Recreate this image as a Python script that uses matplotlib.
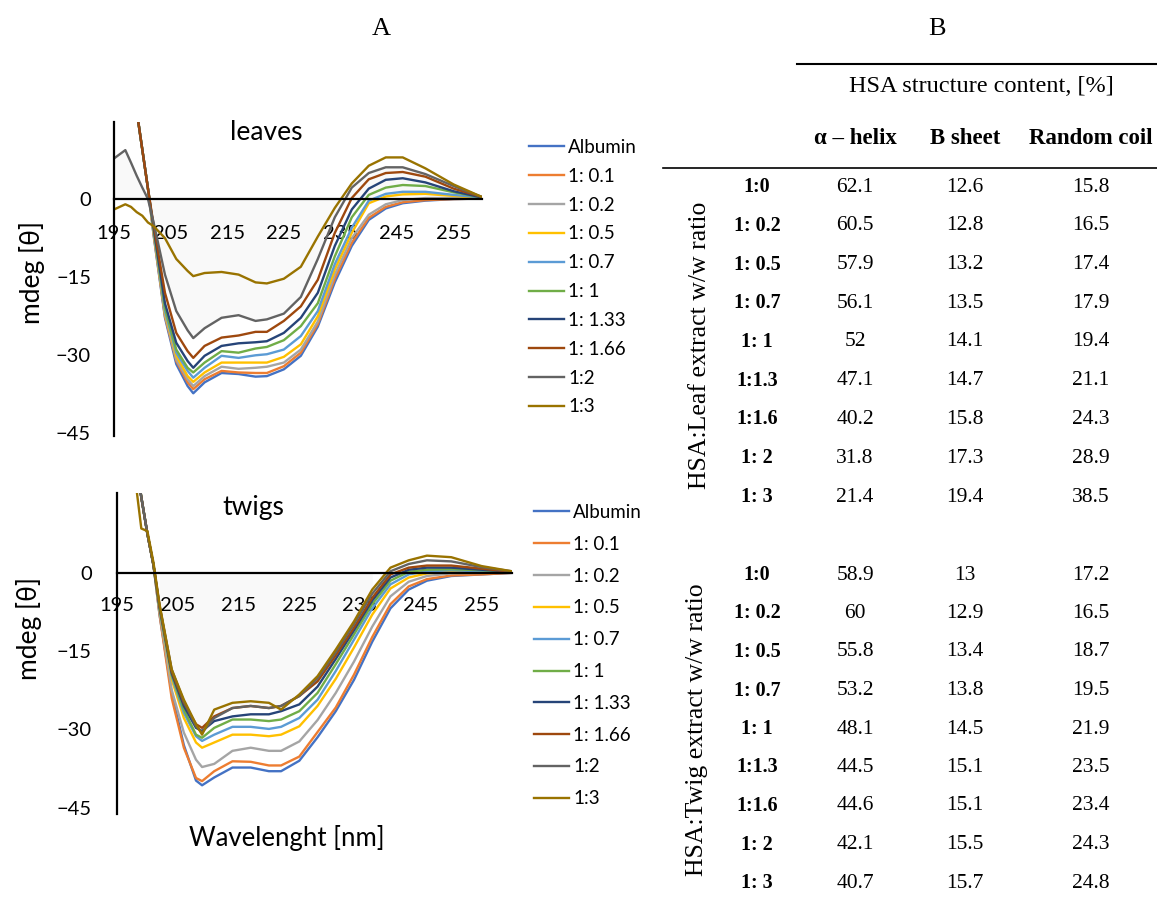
import numpy as np
import matplotlib.pyplot as plt

nan = np.nan
W, H = 1157, 898

wavelength = [195, 197, 198, 199, 200, 201, 202, 204, 206, 208, 209, 211, 214, 217,
              220, 222, 225, 228, 231, 234, 237, 240, 243, 246, 250, 255, 260]

series_names = ['Albumin', '1: 0.1', '1: 0.2', '1: 0.5', '1: 0.7', '1: 1',
                '1: 1.33', '1: 1.66', '1:2', '1:3']
series_colors = ['#4472C4', '#ED7D31', '#A5A5A5', '#FFC000', '#5B9BD5', '#70AD47',
                 '#264478', '#9E480E', '#636363', '#997300']

# leaves, mdeg
leaf_albumin = [nan, nan, 25, 17, 9.5, 2, -7.0, -22.8, -31.7, -35.9, -37.3, -35.2, -33.4, -33.6,
                -34.1, -34.0, -32.7, -30.1, -24.5, -16.0, -9.0, -4.0, -1.8, -0.8, -0.3, 0.0, 0.1]
leaf_01 = [nan, nan, 25, 17, 9.5, 2, -6.8, -22.5, -31.1, -35.2, -36.5, -34.6, -33.0, -33.3,
           -33.4, -33.4, -32.1, -29.5, -24.0, -15.3, -8.4, -3.6, -1.5, -0.6, -0.2, 0.0, 0.1]
leaf_02 = [nan, nan, 25, 17, 9.5, 2, -6.5, -22.2, -30.8, -34.6, -35.9, -34.0, -32.2, -32.6,
           -32.4, -32.2, -31.4, -28.9, -23.5, -14.5, -7.5, -3.0, -1.0, -0.2, 0.2, 0.2, 0.1]
leaf_05 = [nan, nan, 25, 17, 9.5, 2, -6.3, -21.9, -30.1, -34.0, -35.1, -33.3, -31.4, -31.4,
           -31.4, -31.4, -30.3, -27.9, -22.5, -13.5, -6.5, -0.8, 0.5, 0.9, 1.0, 0.6, 0.2]
leaf_07 = [nan, nan, 25, 17, 9.5, 2, -6.0, -21.5, -29.5, -33.0, -34.3, -32.4, -30.1, -30.5,
           -30.0, -29.8, -28.9, -26.3, -21.5, -12.5, -5.5, -0.3, 1.0, 1.4, 1.4, 0.8, 0.3]
leaf_1 = [nan, nan, 25, 17, 9.5, 2, -5.8, -20.9, -28.9, -32.4, -33.3, -31.4, -29.2, -29.5,
          -28.7, -28.4, -27.1, -24.4, -20.0, -11.0, -3.5, 0.8, 2.2, 2.7, 2.5, 1.3, 0.3]
leaf_133 = [nan, nan, 25, 17, 9.5, 2, -5.5, -20.0, -27.6, -31.1, -32.4, -30.1, -28.2, -27.7,
            -27.5, -27.3, -25.7, -22.8, -18.0, -9.0, -2.0, 2.0, 3.7, 4.0, 3.2, 1.5, 0.3]
leaf_166 = [nan, nan, 25, 17, 9.5, 2, -5.0, -18.0, -25.7, -29.2, -30.5, -28.2, -26.6, -26.2,
            -25.5, -25.5, -23.4, -20.6, -15.5, -6.5, 0.2, 3.8, 5.0, 5.2, 4.3, 2.0, 0.4]
leaf_2 = [7.8, 9.4, 7.0, 4.5, 2.2, 0.0, -4.5, -14.5, -21.5, -25.2, -26.7, -24.8, -22.8, -22.3,
          -23.4, -23.1, -22.0, -18.8, -11.5, -3.5, 2.2, 5.0, 6.1, 6.1, 4.8, 2.5, 0.4]
leaf_3 = [-2.0, -1.0, -1.5, -2.5, -3.2, -4.5, -5.2, -7.5, -11.5, -13.8, -14.8, -14.2, -14.0, -14.5,
          -16.0, -16.2, -15.3, -13.0, -7.2, -1.7, 3.0, 6.4, 8.0, 8.0, 5.9, 2.8, 0.4]

# twigs, mdeg
twig_albumin = [nan, nan, 22, 14.5, 7.5, 1.5, -8.0, -23.0, -33.0, -39.8, -40.7, -39.2, -37.3, -37.3,
                -38.0, -38.0, -36.0, -31.5, -26.5, -20.5, -13.2, -6.8, -3.2, -1.5, -0.6, -0.3, 0.0]
twig_01 = [nan, nan, 22, 14.5, 7.5, 1.5, -8.0, -24.0, -33.5, -39.3, -39.9, -38.0, -36.1, -36.2,
           -36.9, -36.9, -35.2, -30.5, -25.8, -19.5, -12.3, -6.0, -2.6, -1.2, -0.5, -0.3, 0.0]
twig_02 = [nan, nan, 22, 14.5, 7.5, 1.5, -7.5, -22.4, -30.6, -35.8, -37.2, -36.6, -34.1, -33.5,
           -34.1, -34.1, -32.3, -28.2, -23.0, -17.0, -10.3, -4.5, -1.7, -0.6, -0.1, 0.0, 0.1]
twig_05 = [nan, nan, 22, 14.5, 7.5, 1.5, -7.0, -20.4, -27.8, -32.5, -33.5, -32.5, -31.0, -31.0,
           -31.3, -31.0, -29.4, -25.5, -20.3, -14.3, -8.0, -3.0, -0.9, -0.1, 0.2, 0.2, 0.1]
twig_07 = [nan, nan, 22, 14.5, 7.5, 1.5, -7.0, -19.8, -26.8, -31.3, -32.2, -31.0, -29.5, -29.5,
           -29.9, -29.5, -27.8, -24.3, -18.8, -12.8, -6.8, -2.2, -0.3, 0.3, 0.5, 0.3, 0.1]
twig_1 = [nan, nan, 22, 14.5, 7.5, 1.5, -6.8, -19.5, -26.2, -31.0, -31.6, -29.7, -28.1, -28.1,
          -28.4, -28.1, -26.5, -23.0, -17.5, -11.8, -6.0, -1.5, 0.2, 0.6, 0.7, 0.5, 0.2]
twig_133 = [nan, nan, 22, 14.5, 7.5, 1.5, -6.5, -19.2, -25.5, -29.7, -30.3, -28.4, -27.5, -27.1,
            -27.1, -26.5, -25.2, -21.8, -16.5, -11.0, -5.3, -0.9, 0.6, 1.0, 1.0, 0.6, 0.2]
twig_166 = [nan, nan, 22, 14.5, 7.5, 1.5, -6.3, -18.9, -24.9, -29.0, -29.7, -27.5, -25.9, -25.5,
            -25.9, -25.5, -23.6, -20.8, -15.8, -10.5, -4.8, -0.3, 1.0, 1.4, 1.4, 0.8, 0.2]
twig_2 = [nan, nan, 22, 14.5, 7.5, 1.5, -6.3, -18.5, -24.6, -29.4, -30.6, -27.8, -25.9, -25.5,
          -25.9, -25.5, -23.6, -20.2, -15.2, -9.8, -4.0, 0.3, 1.7, 2.4, 2.2, 1.1, 0.3]
twig_3 = [nan, nan, 18, 8.5, 8.0, 2.0, -6.0, -18.5, -24.3, -29.0, -31.0, -26.2, -24.9, -24.6,
          -24.9, -26.2, -23.3, -19.8, -14.7, -9.3, -3.2, 1.0, 2.4, 3.3, 3.0, 1.3, 0.3]

leaf_curves = [leaf_albumin, leaf_01, leaf_02, leaf_05, leaf_07, leaf_1, leaf_133, leaf_166, leaf_2, leaf_3]
twig_curves = [twig_albumin, twig_01, twig_02, twig_05, twig_07, twig_1, twig_133, twig_166, twig_2, twig_3]

xticks = [195, 205, 215, 225, 235, 245, 255]
yticks = [-45, -30, -15, 0]

# table B
row_labels = ['1:0', '1: 0.2', '1: 0.5', '1: 0.7', '1: 1', '1:1.3', '1:1.6', '1: 2', '1: 3']
col_labels = ['\u03b1 \u2013 helix', 'B sheet', 'Random coil']
leaf_helix = ['62.1', '60.5', '57.9', '56.1', '52', '47.1', '40.2', '31.8', '21.4']
leaf_sheet = ['12.6', '12.8', '13.2', '13.5', '14.1', '14.7', '15.8', '17.3', '19.4']
leaf_coil = ['15.8', '16.5', '17.4', '17.9', '19.4', '21.1', '24.3', '28.9', '38.5']
twig_helix = ['58.9', '60', '55.8', '53.2', '48.1', '44.5', '44.6', '42.1', '40.7']
twig_sheet = ['13', '12.9', '13.4', '13.8', '14.5', '15.1', '15.1', '15.5', '15.7']
twig_coil = ['17.2', '16.5', '18.7', '19.5', '21.9', '23.5', '23.4', '24.3', '24.8']

plt.rcParams['font.family'] = ['Lato', 'DejaVu Sans']
serif = ['Liberation Serif', 'DejaVu Serif']


def fx(x):
    return x / W


def fy(y):
    return 1 - y / H


def draw_panel(ax, curves, ylim, tickpad, fill_positive):
    for name, color, vals in zip(series_names, series_colors, curves):
        ax.plot(wavelength, vals, color=color, lw=1.7, label=name)
    shade = np.array(curves[8], dtype=float)
    mask = np.ones(len(shade), bool) if fill_positive else ~(shade > 0)
    ax.fill_between(wavelength, shade, 0, where=mask, color='#f9f9f9', lw=0, zorder=0)
    ax.set_xlim(195, 260)
    ax.set_ylim(*ylim)
    ax.spines[['top', 'right']].set_visible(False)
    ax.spines['bottom'].set_position(('data', 0))
    for s in ('left', 'bottom'):
        ax.spines[s].set_linewidth(1.6)
    ax.set_xticks(xticks)
    ax.set_yticks(yticks)
    ax.tick_params(axis='x', length=0, labelsize=14.5, pad=tickpad[0])
    ax.tick_params(axis='y', length=0, labelsize=14.5, pad=tickpad[1])


fig = plt.figure(figsize=(W / 100, H / 100), dpi=100)

ax1 = fig.add_axes([fx(114), fy(436), fx(482 - 114), (436 - 122) / H])
draw_panel(ax1, leaf_curves, (-45.5, 14.8), (18.5, 16.5), True)
ax1.legend(loc='upper left', bbox_to_anchor=(fx(529), fy(139)), bbox_transform=fig.transFigure,
           frameon=False, fontsize=13.5, handlelength=1.87, handletextpad=0.22,
           labelspacing=0.63, borderpad=0, borderaxespad=0)

ax2 = fig.add_axes([fx(117), fy(814), fx(512 - 117), (814 - 493) / H])
draw_panel(ax2, twig_curves, (-46.2, 15.3), (17.5, 18), False)
ax2.legend(loc='upper left', bbox_to_anchor=(fx(534), fy(504)), bbox_transform=fig.transFigure,
           frameon=False, fontsize=13.5, handlelength=1.87, handletextpad=0.22,
           labelspacing=0.79, borderpad=0, borderaxespad=0)

fig.text(fx(266), fy(133), 'leaves', fontsize=19, ha='center', va='center')
fig.text(fx(253), fy(508), 'twigs', fontsize=19, ha='center', va='center')
fig.text(fx(32), fy(272), 'mdeg [\u03b8]', fontsize=19, rotation=90, ha='center', va='center')
fig.text(fx(29), fy(629), 'mdeg [\u03b8]', fontsize=19, rotation=90, ha='center', va='center')
fig.text(fx(287), fy(838), 'Wavelenght [nm]', fontsize=18.5, ha='center', va='center')

# table drawn in pixel coordinates
axt = fig.add_axes([0, 0, 1, 1])
axt.set_xlim(0, W)
axt.set_ylim(H, 0)
axt.axis('off')
axt.patch.set_alpha(0)

axt.text(381, 29, 'A', family=serif, fontsize=19, ha='center', va='center')
axt.text(937, 29, 'B', family=serif, fontsize=19, ha='center', va='center')
axt.plot([797, 1157], [64, 64], color='black', lw=1.5)
axt.plot([663, 1157], [168, 168], color='black', lw=1.2)
axt.text(981, 86, 'HSA structure content, [%]', family=serif, fontsize=17.5, ha='center', va='center')

col_x = [855, 965, 1091]
for x, lab in zip(col_x, col_labels):
    axt.text(x, 138, lab, family=serif, fontsize=16.5, fontweight='bold', ha='center', va='center')

groups = [(187, 38.75, [leaf_helix, leaf_sheet, leaf_coil], 'HSA:Leaf extract w/w ratio', 700, 345),
          (575, 38.5, [twig_helix, twig_sheet, twig_coil], 'HSA:Twig extract w/w ratio', 697, 730)]
for y0, step, cols, glabel, gx, gy in groups:
    for i, lab in enumerate(row_labels):
        y = y0 + i * step
        axt.text(757, y, lab, family=serif, fontsize=14.5, fontweight='bold', ha='center', va='center')
        for x, col in zip(col_x, cols):
            axt.text(x, y, col[i], family=serif, fontsize=15.5, ha='center', va='center')
    axt.text(gx, gy, glabel, family=serif, fontsize=18.5, rotation=90, ha='center', va='center')

fig.savefig('out.png', dpi=100)
